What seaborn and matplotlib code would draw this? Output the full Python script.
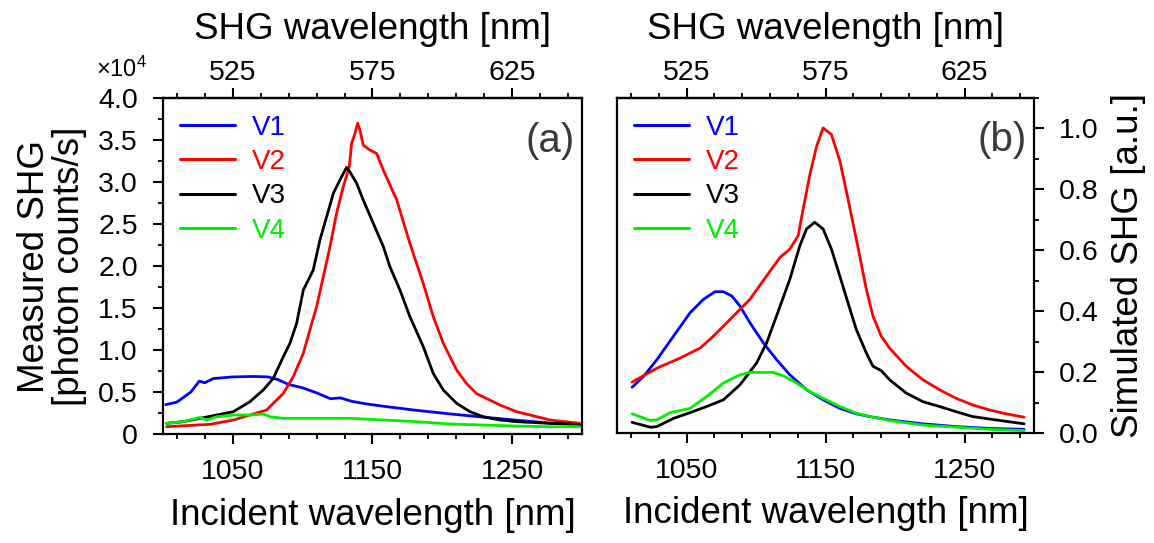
import numpy as np
import pandas as pd
import matplotlib
matplotlib.use("Agg")
import matplotlib.pyplot as plt
from matplotlib.ticker import FixedLocator, MultipleLocator, FuncFormatter
import seaborn as sns

# ---------------- data: panel (a) measured SHG (units of 1e4 photon counts/s)
a_v1_x = [1002, 1010, 1020, 1026, 1030, 1036, 1050, 1065, 1075, 1082, 1090, 1100, 1110,
          1120, 1127, 1135, 1145, 1158, 1180, 1205, 1230, 1253, 1277, 1299]
a_v1_y = [0.35, 0.38, 0.50, 0.63, 0.61, 0.66, 0.68, 0.685, 0.68, 0.65, 0.59, 0.55, 0.49,
          0.42, 0.43, 0.39, 0.36, 0.33, 0.285, 0.24, 0.20, 0.165, 0.13, 0.115]

a_v2_x = [1002.6, 1033.7, 1050.4, 1062.3, 1074.2, 1086.2, 1093.3, 1100.5, 1105.2, 1110.0,
          1114.8, 1119.6, 1124.3, 1129.1, 1133.4, 1135.1, 1137.5, 1139.4, 1141.0, 1143.4,
          1148.2, 1153.0, 1157.8, 1167.3, 1176.8, 1186.4, 1193.5, 1200.7, 1210.3, 1217.4,
          1224.6, 1241.3, 1253.2, 1277.1, 1298.6]
a_v2_y = [0.087, 0.115, 0.167, 0.226, 0.286, 0.484, 0.683, 0.96, 1.24, 1.516,
          1.873, 2.23, 2.627, 2.944, 3.18, 3.46, 3.58, 3.70, 3.62, 3.44,
          3.38, 3.34, 3.14, 2.79, 2.27, 1.79, 1.40, 1.08, 0.76, 0.60,
          0.48, 0.345, 0.266, 0.167, 0.127]

a_v3_x = [1002.6, 1014.6, 1026.5, 1033.7, 1050.4, 1062.3, 1071.8, 1079.0, 1086.2, 1090.9,
          1095.7, 1100.5, 1102.9, 1107.6, 1112.4, 1117.2, 1122.0, 1126.7, 1131.5, 1133.9,
          1138.7, 1143.4, 1150.6, 1157.8, 1162.5, 1169.7, 1176.8, 1186.4, 1193.5, 1200.7,
          1210.3, 1219.8, 1229.3, 1241.3, 1253.2, 1277.1, 1298.6]
a_v3_y = [0.127, 0.147, 0.187, 0.21, 0.266, 0.385, 0.524, 0.663, 0.921, 1.079,
          1.317, 1.714, 1.794, 1.952, 2.31, 2.587, 2.865, 3.024, 3.175, 3.12,
          2.984, 2.786, 2.508, 2.23, 1.992, 1.714, 1.397, 1.04, 0.722, 0.524,
          0.365, 0.266, 0.206, 0.167, 0.147, 0.127, 0.115]

a_v4_x = [1002.6, 1014.6, 1026.5, 1031.3, 1038.4, 1050.4, 1062.3, 1071.8, 1076.6, 1086.2,
          1110.0, 1133.9, 1157.8, 1181.6, 1205.5, 1229.3, 1253.2, 1277.1, 1298.6]
a_v4_y = [0.127, 0.147, 0.198, 0.167, 0.206, 0.226, 0.226, 0.238, 0.206, 0.187,
          0.187, 0.187, 0.167, 0.147, 0.119, 0.107, 0.095, 0.087, 0.087]

# ---------------- data: panel (b) simulated SHG (a.u.)
b_v1_x = [1010.8, 1019.1, 1028.7, 1040.6, 1052.6, 1062.2, 1070.5, 1076.5, 1082.5, 1088.4,
          1095.6, 1105.2, 1114.7, 1124.3, 1136.3, 1148.2, 1160.2, 1172.1, 1184.1, 1196.0,
          1219.9, 1243.8, 1267.7, 1292.8]
b_v1_y = [0.150, 0.186, 0.241, 0.318, 0.395, 0.439, 0.464, 0.464, 0.450, 0.417,
          0.362, 0.296, 0.241, 0.191, 0.142, 0.109, 0.081, 0.063, 0.052, 0.043,
          0.030, 0.021, 0.015, 0.012]

b_v2_x = [1010.8, 1028.7, 1045.4, 1059.8, 1069.3, 1081.3, 1095.6, 1107.6, 1117.1, 1124.3,
          1130.3, 1133.9, 1138.6, 1143.4, 1148.2, 1154.2, 1160.2, 1166.1, 1172.1, 1179.3,
          1184.1, 1190.0, 1196.0, 1208.0, 1219.9, 1231.9, 1243.8, 1255.8, 1267.7, 1279.7,
          1292.8]
b_v2_y = [0.167, 0.213, 0.246, 0.279, 0.318, 0.373, 0.439, 0.516, 0.576, 0.604,
          0.648, 0.736, 0.846, 0.939, 1.002, 0.980, 0.895, 0.769, 0.637, 0.472,
          0.384, 0.318, 0.279, 0.219, 0.175, 0.142, 0.114, 0.092, 0.076, 0.063,
          0.052]

b_v3_x = [1010.8, 1023.9, 1028.7, 1040.6, 1052.6, 1064.5, 1076.5, 1088.4, 1100.4, 1107.6,
          1114.7, 1124.3, 1131.5, 1136.3, 1142.2, 1148.2, 1154.2, 1160.2, 1166.1, 1172.1,
          1179.3, 1184.1, 1190.0, 1196.0, 1208.0, 1219.9, 1231.9, 1243.8, 1255.8, 1267.7,
          1292.8]
b_v3_y = [0.035, 0.019, 0.021, 0.048, 0.067, 0.087, 0.109, 0.158, 0.230, 0.296,
          0.384, 0.505, 0.615, 0.670, 0.692, 0.670, 0.604, 0.516, 0.428, 0.340,
          0.263, 0.219, 0.205, 0.175, 0.131, 0.103, 0.087, 0.070, 0.054, 0.046,
          0.030]

b_v4_x = [1010.8, 1023.9, 1028.7, 1038.3, 1052.6, 1064.5, 1076.5, 1088.4, 1095.6, 1112.3,
          1119.5, 1129.1, 1138.6, 1148.2, 1160.2, 1172.1, 1184.1, 1196.0, 1219.9, 1243.8,
          1267.7, 1292.8]
b_v4_y = [0.063, 0.041, 0.043, 0.067, 0.081, 0.120, 0.164, 0.191, 0.199, 0.199,
          0.188, 0.164, 0.136, 0.114, 0.087, 0.065, 0.052, 0.041, 0.026, 0.019,
          0.012, 0.008]

series_names = ["V1", "V2", "V3", "V4"]
series_colors = ["#0000FF", "#FF0000", "#000000", "#00EE00"]

def make_df(pairs):
    frames = []
    for name, (x, y) in zip(series_names, pairs):
        frames.append(pd.DataFrame({"x": x, "y": y, "series": name}))
    return pd.concat(frames, ignore_index=True)

df_a = make_df([(a_v1_x, a_v1_y), (a_v2_x, a_v2_y), (a_v3_x, a_v3_y), (a_v4_x, a_v4_y)])
df_b = make_df([(b_v1_x, b_v1_y), (b_v2_x, b_v2_y), (b_v3_x, b_v3_y), (b_v4_x, b_v4_y)])

# ---------------- style
sns.set_style("ticks")
plt.rcParams["font.family"] = ["Liberation Sans", "DejaVu Sans"]
plt.rcParams["mathtext.fontset"] = "custom"
plt.rcParams["mathtext.rm"] = "Liberation Sans"
for k in ["text.color", "axes.labelcolor", "xtick.color", "ytick.color", "axes.edgecolor"]:
    plt.rcParams[k] = "black"
plt.rcParams["axes.linewidth"] = 1.6

TICK_FS = 20.5
LABEL_FS = 26.5
LEG_FS = 20
palette = dict(zip(series_names, series_colors))

fig = plt.figure(figsize=(11.54, 5.43), dpi=100)
ax_a = fig.add_axes([0.1412, 0.2007, 0.3631, 0.6188])
ax_b = fig.add_axes([0.5347, 0.2026, 0.3614, 0.6169])

for ax, df in [(ax_a, df_a), (ax_b, df_b)]:
    sns.lineplot(data=df, x="x", y="y", hue="series", palette=palette, ax=ax,
                 linewidth=2.0, sort=False, estimator=None, legend=True)
    ax.set_xlim(1000, 1300)
    ax.xaxis.set_major_locator(FixedLocator([1050, 1150, 1250]))
    ax.xaxis.set_minor_locator(FixedLocator(np.arange(1010, 1300, 20)))
    ax.set_xlabel("Incident wavelength [nm]", fontsize=LABEL_FS, labelpad=9)
    ax.tick_params(axis="both", which="major", direction="out", length=7, width=1.5,
                   labelsize=TICK_FS)
    ax.tick_params(axis="x", which="major", pad=11)
    ax.tick_params(axis="y", which="major", pad=11)
    ax.tick_params(axis="both", which="minor", direction="out", length=3.5, width=1.3)
    for s in ax.spines.values():
        s.set_visible(True)
        s.set_linewidth(1.6)
    # top axis: SHG wavelength
    sec = ax.secondary_xaxis("top", functions=(lambda x: x / 2.0, lambda x: x * 2.0))
    sec.xaxis.set_major_locator(FixedLocator([525, 575, 625]))
    sec.xaxis.set_minor_locator(FixedLocator(np.arange(505, 650, 10)))
    sec.tick_params(axis="x", which="major", direction="out", length=7, width=1.5,
                    labelsize=TICK_FS, pad=2)
    sec.tick_params(axis="x", which="minor", direction="out", length=3.5, width=1.3)
    sec.set_xlabel("SHG wavelength [nm]", fontsize=LABEL_FS, labelpad=15)
    # legend
    handles, labels = ax.get_legend_handles_labels()
    leg = ax.legend(handles, labels, loc="upper left", frameon=False, fontsize=LEG_FS,
                    handlelength=2.0, handletextpad=0.6, labelspacing=0.3,
                    borderaxespad=0.2, bbox_to_anchor=(0.0, 1.0))
    for txt, c in zip(leg.get_texts(), series_colors):
        txt.set_color(c)
    for line in leg.get_lines():
        line.set_linewidth(2.2)

# panel (a) y axis
ax_a.set_ylim(0, 4.0)
ax_a.yaxis.set_major_locator(MultipleLocator(0.5))
ax_a.yaxis.set_minor_locator(MultipleLocator(0.25))
ax_a.yaxis.set_major_formatter(FuncFormatter(lambda v, p: "0" if abs(v) < 1e-9 else f"{v:.1f}"))
ax_a.tick_params(axis="y", which="both", left=True, right=False)
ax_a.set_ylabel("Measured SHG\n[photon counts/s]", fontsize=LABEL_FS, labelpad=8,
                linespacing=1.0)
ax_a.text(-0.10, 1.062, r"$\mathregular{\times10^4}$", transform=ax_a.transAxes,
          fontsize=17, ha="center", va="baseline")
ax_a.text(0.983, 0.93, "(a)", transform=ax_a.transAxes, fontsize=29, color="#3a3a3a",
          ha="right", va="top")

# panel (b) y axis on the right
ax_b.set_ylim(0, 1.1)
ax_b.yaxis.set_major_locator(MultipleLocator(0.2))
ax_b.yaxis.set_minor_locator(MultipleLocator(0.1))
ax_b.yaxis.set_major_formatter(FuncFormatter(lambda v, p: f"{v:.1f}"))
ax_b.yaxis.tick_right()
ax_b.yaxis.set_label_position("right")
ax_b.tick_params(axis="y", which="both", left=False, right=True)
ax_b.set_ylabel("Simulated SHG [a.u.]", fontsize=LABEL_FS, labelpad=9)
ax_b.text(0.983, 0.93, "(b)", transform=ax_b.transAxes, fontsize=29, color="#3a3a3a",
          ha="right", va="top")

fig.savefig("out.png", dpi=100)
